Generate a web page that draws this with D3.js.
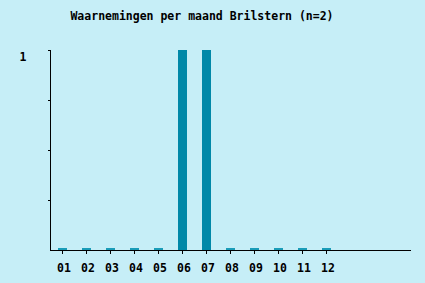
<!DOCTYPE html>
<html>
<head>
<meta charset="utf-8">
<script src="https://cdn.jsdelivr.net/npm/d3@7"></script>
<style>
  body { margin: 0; background: #c6eef7; }
  text { font-family: "DejaVu Sans Mono", "Liberation Mono", monospace; font-weight: bold; fill: #000; }
</style>
</head>
<body>
<svg id="chart" width="425" height="283"></svg>
<script>
// chart data
const months = ['01','02','03','04','05','06','07','08','09','10','11','12'];
const counts = [0, 0, 0, 0, 0, 1, 1, 0, 0, 0, 0, 0];
const yTicks = [0, 0.25, 0.5, 0.75, 1];
const yTickLabels = ['1'];
const title = 'Waarnemingen per maand Brilstern (n=2)';

const svg = d3.select('#chart');
const bg = '#c6eef7';
const barColor = '#0088a8';

svg.append('rect').attr('width', 425).attr('height', 283).attr('fill', bg);

// x: 24px per month, first centre at 62.5
const x = d3.scaleBand().domain(months).range([50.5, 338.5]).paddingInner(0.625).paddingOuter(0.3125);
const y = d3.scaleLinear().domain([0, 1]).range([250, 50]);

svg.append('text')
  .attr('x', 202).attr('y', 20)
  .attr('text-anchor', 'middle')
  .style('font-size', '11.5px')
  .text(title);

// bars (zero values shown as a thin stub)
svg.selectAll('rect.bar')
  .data(counts)
  .enter().append('rect')
  .attr('class', 'bar')
  .attr('x', (d, i) => x(months[i]))
  .attr('width', x.bandwidth())
  .attr('y', d => d > 0 ? y(d) : y(0) - 2)
  .attr('height', d => d > 0 ? y(0) - y(d) : 2)
  .attr('fill', d => d > 0 ? barColor : '#1a9cb8');

// y axis
svg.append('line').attr('x1', 50.5).attr('x2', 50.5).attr('y1', 50).attr('y2', 250.5)
  .attr('stroke', '#000');
svg.selectAll('line.ytick')
  .data(yTicks.filter(t => t > 0))
  .enter().append('line')
  .attr('class', 'ytick')
  .attr('x1', 48).attr('x2', 50.5)
  .attr('y1', d => y(d) + 0.5).attr('y2', d => y(d) + 0.5)
  .attr('stroke', '#000');
svg.selectAll('text.ylab')
  .data(yTickLabels)
  .enter().append('text')
  .attr('class', 'ylab')
  .attr('x', 23).attr('y', d => y(+d) + 11)
  .attr('text-anchor', 'middle')
  .style('font-size', '11.5px')
  .text(d => d);

// x axis
svg.append('line').attr('x1', 50).attr('x2', 411).attr('y1', 250.5).attr('y2', 250.5)
  .attr('stroke', '#000');
svg.selectAll('line.xtick')
  .data(months)
  .enter().append('line')
  .attr('class', 'xtick')
  .attr('x1', d => Math.round(x(d) + x.bandwidth() / 2) - 0.5)
  .attr('x2', d => Math.round(x(d) + x.bandwidth() / 2) - 0.5)
  .attr('y1', 250).attr('y2', 254)
  .attr('stroke', '#000');
svg.selectAll('text.xlab')
  .data(months)
  .enter().append('text')
  .attr('class', 'xlab')
  .attr('x', d => x(d) + x.bandwidth() / 2 + 1.5)
  .attr('y', 272)
  .attr('text-anchor', 'middle')
  .style('font-size', '11.5px')
  .text(d => d);
</script>
</body>
</html>
